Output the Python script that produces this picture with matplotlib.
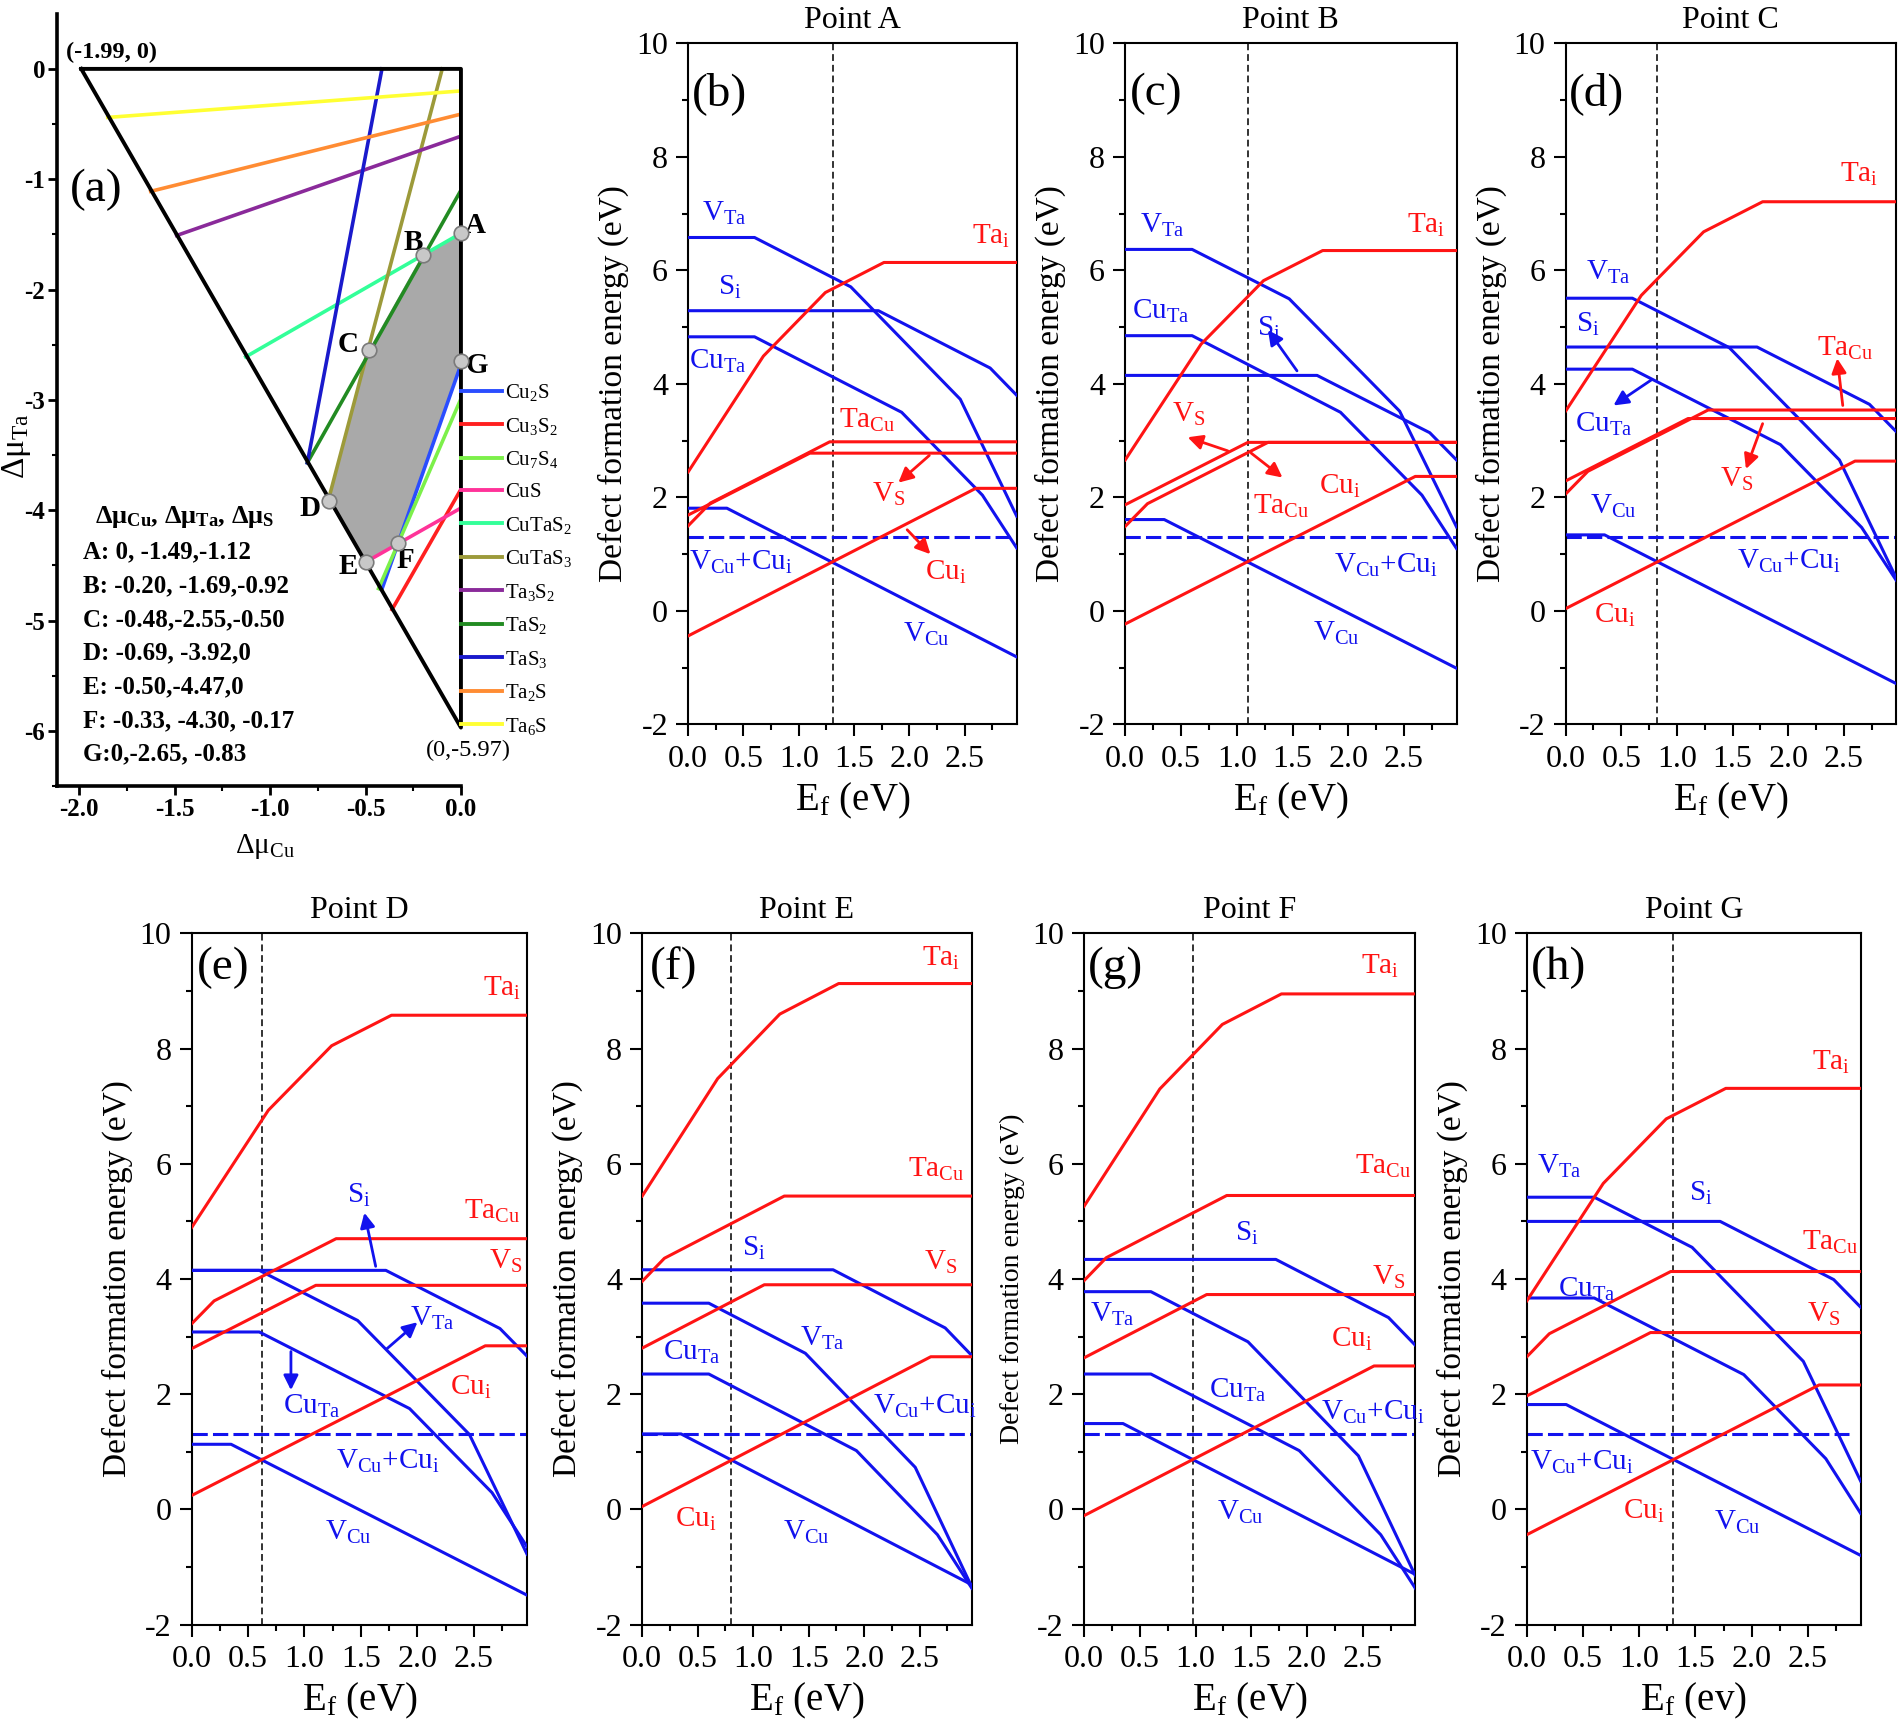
import numpy as np
import matplotlib.pyplot as plt
from matplotlib.lines import Line2D

plt.rcParams['font.family'] = 'Liberation Serif'
plt.rcParams['mathtext.fontset'] = 'custom'
plt.rcParams['mathtext.rm'] = 'Liberation Serif'
plt.rcParams['mathtext.it'] = 'Liberation Serif:italic'
plt.rcParams['mathtext.bf'] = 'Liberation Serif:bold'
plt.rcParams['axes.unicode_minus'] = False

# ---------------- panel (a): chemical potential map ----------------
tri_cu = [-1.99, 0.0, 0.0, -1.99]
tri_ta = [0.0, 0.0, -5.97, 0.0]

pt_names = ['A', 'B', 'C', 'D', 'E', 'F', 'G']
pt_cu = [0.0, -0.20, -0.48, -0.69, -0.50, -0.33, 0.0]
pt_ta = [-1.49, -1.69, -2.55, -3.92, -4.47, -4.30, -2.65]
pt_rows = ['A: 0, -1.49,-1.12', 'B: -0.20, -1.69,-0.92', 'C: -0.48,-2.55,-0.50',
           'D: -0.69, -3.92,0', 'E: -0.50,-4.47,0', 'F: -0.33, -4.30, -0.17',
           'G:0,-2.65, -0.83']

phase_names = ['Cu_2S', 'Cu_3S_2', 'Cu_7S_4', 'CuS', 'CuTaS_2', 'CuTaS_3',
               'Ta_3S_2', 'TaS_2', 'TaS_3', 'Ta_2S', 'Ta_6S']
phase_colors = ['#2a4dff', '#ff2020', '#7cf04a', '#ff3399', '#33ff99', '#9c9a3a',
                '#8a2a9a', '#228b22', '#1a1acc', '#ff8c33', '#ffff33']
phase_cu = [[-0.415, 0.0], [-0.361, 0.0], [-0.432, 0.0], [-0.489, 0.0],
            [-1.128, 0.0], [-0.695, -0.098], [-1.49, 0.0], [-0.805, 0.0],
            [-0.414, -0.805], [-1.626, 0.0], [-1.851, 0.0]]
phase_ta = [[-4.72, -2.68], [-4.90, -3.81], [-4.71, -2.99], [-4.46, -3.98],
            [-2.61, -1.49], [-3.91, 0.0], [-1.51, -0.61], [-3.57, -1.10],
            [0.0, -3.57], [-1.11, -0.41], [-0.44, -0.20]]

# ---------------- panels (b)-(h): defect formation energies ----------------
ef_max = 2.97
panel_tags = ['(b)', '(c)', '(d)', '(e)', '(f)', '(g)', '(h)']
panel_titles = ['Point A', 'Point B', 'Point C', 'Point D', 'Point E', 'Point F', 'Point G']
ef_pin = [1.31, 1.10, 0.82, 0.62, 0.80, 0.98, 1.30]
pair_level = 1.30
pair_end = [ef_max, ef_max, ef_max, ef_max, ef_max, ef_max, 2.87]

VTa_x = [0, 0.60, 1.47, 2.46, ef_max]
VTa_E = [[6.58, 6.58, 5.71, 3.73, 1.67],
         [6.37, 6.37, 5.50, 3.52, 1.48],
         [5.51, 5.51, 4.64, 2.66, 0.58],
         [4.15, 4.15, 3.28, 1.30, -0.78],
         [3.58, 3.58, 2.71, 0.73, -1.35],
         [3.78, 3.78, 2.91, 0.93, -1.15],
         [5.42, 5.42, 4.55, 2.57, 0.49]]
Si_x = [0, 1.72, 2.73, ef_max]
Si_E = [[5.29, 5.29, 4.28, 3.80],
        [4.15, 4.15, 3.14, 2.66],
        [4.65, 4.65, 3.64, 3.16],
        [4.15, 4.15, 3.14, 2.66],
        [4.16, 4.16, 3.15, 2.67],
        [4.34, 4.34, 3.33, 2.85],
        [5.00, 5.00, 3.99, 3.51]]
CuTa_x = [0, 0.60, 1.93, 2.66, ef_max]
CuTa_E = [[4.83, 4.83, 3.50, 2.04, 1.11],
          [4.85, 4.85, 3.50, 2.04, 1.10],
          [4.26, 4.26, 2.93, 1.47, 0.54],
          [3.08, 3.08, 1.75, 0.29, -0.65],
          [2.35, 2.35, 1.02, -0.44, -1.37],
          [2.35, 2.35, 1.02, -0.44, -1.37],
          [3.67, 3.67, 2.34, 0.88, -0.07]]
VCu_x = [0, 0.35, ef_max]
VCu_E = [[1.81, 1.81, -0.81],
         [1.61, 1.61, -1.01],
         [1.34, 1.34, -1.28],
         [1.13, 1.13, -1.49],
         [1.31, 1.31, -1.31],
         [1.49, 1.49, -1.13],
         [1.82, 1.82, -0.80]]
Tai_x = [0, 0.68, 1.24, 1.77, ef_max]
Tai_E = [[2.45, 4.49, 5.61, 6.14, 6.14],
         [2.66, 4.70, 5.82, 6.35, 6.35],
         [3.52, 5.56, 6.68, 7.21, 7.21],
         [4.89, 6.93, 8.05, 8.58, 8.58],
         [5.44, 7.48, 8.60, 9.13, 9.13],
         [5.26, 7.30, 8.42, 8.95, 8.95],
         [3.62, 5.66, 6.78, 7.31, 7.31]]
TaCu_x = [0, 0.20, 1.28, ef_max]
TaCu_E = [[1.50, 1.90, 2.98, 2.98],
          [1.49, 1.89, 2.97, 2.97],
          [2.06, 2.46, 3.54, 3.54],
          [3.22, 3.62, 4.70, 4.70],
          [3.96, 4.36, 5.44, 5.44],
          [3.97, 4.37, 5.45, 5.45],
          [2.65, 3.05, 4.13, 4.13]]
VS_x = [0, 1.10, ef_max]
VS_E = [[1.69, 2.78, 2.78],
        [1.87, 2.97, 2.97],
        [2.29, 3.39, 3.39],
        [2.79, 3.89, 3.89],
        [2.80, 3.90, 3.90],
        [2.63, 3.73, 3.73],
        [1.97, 3.07, 3.07]]
Cui_x = [0, 2.60, ef_max]
Cui_E = [[-0.44, 2.16, 2.16],
         [-0.23, 2.37, 2.37],
         [0.04, 2.64, 2.64],
         [0.24, 2.84, 2.84],
         [0.05, 2.65, 2.65],
         [-0.11, 2.49, 2.49],
         [-0.44, 2.16, 2.16]]

BLUE = '#1212ee'
RED = '#ff1414'

LBL = {
    'VTa': (r'$\mathrm{V_{Ta}}$', BLUE), 'Si': (r'$\mathrm{S_i}$', BLUE),
    'CuTa': (r'$\mathrm{Cu_{Ta}}$', BLUE), 'VCu': (r'$\mathrm{V_{Cu}}$', BLUE),
    'pair': (r'$\mathrm{V_{Cu}{+}Cu_i}$', BLUE),
    'Tai': (r'$\mathrm{Ta_i}$', RED), 'TaCu': (r'$\mathrm{Ta_{Cu}}$', RED),
    'VS': (r'$\mathrm{V_S}$', RED), 'Cui': (r'$\mathrm{Cu_i}$', RED),
}

# label placement per panel: (key, x, y); arrows: (color, tail, head)
label_pos = [
    [('VTa', 0.33, 7.0), ('Si', 0.38, 5.7), ('CuTa', 0.27, 4.4), ('Tai', 2.74, 6.6),
     ('TaCu', 1.62, 3.35), ('VS', 1.81, 2.05), ('Cui', 2.33, 0.68), ('pair', 0.48, 0.85),
     ('VCu', 2.15, -0.42)],
    [('VTa', 0.33, 6.8), ('CuTa', 0.32, 5.28), ('Si', 1.29, 4.98), ('VS', 0.57, 3.47),
     ('TaCu', 1.40, 1.85), ('Cui', 1.92, 2.2), ('Tai', 2.7, 6.8), ('pair', 2.34, 0.8),
     ('VCu', 1.89, -0.4)],
    [('Tai', 2.64, 7.7), ('VTa', 0.38, 5.97), ('Si', 0.20, 5.05), ('TaCu', 2.51, 4.62),
     ('CuTa', 0.34, 3.28), ('VS', 1.54, 2.32), ('VCu', 0.43, 1.84), ('pair', 2.01, 0.88),
     ('Cui', 0.44, -0.08)],
    [('Tai', 2.75, 9.05), ('TaCu', 2.66, 5.17), ('VS', 2.78, 4.31), ('Si', 1.48, 5.46),
     ('VTa', 2.13, 3.31), ('CuTa', 1.06, 1.78), ('Cui', 2.47, 2.12), ('pair', 1.74, 0.83),
     ('VCu', 1.39, -0.4)],
    [('Tai', 2.69, 9.57), ('TaCu', 2.65, 5.91), ('VS', 2.69, 4.29), ('Si', 1.01, 4.53),
     ('VTa', 1.62, 2.96), ('CuTa', 0.45, 2.73), ('pair', 2.55, 1.78), ('Cui', 0.48, -0.17),
     ('VCu', 1.48, -0.4)],
    [('Tai', 2.65, 9.43), ('TaCu', 2.68, 5.95), ('VS', 2.73, 4.03), ('Si', 1.46, 4.79),
     ('VTa', 0.25, 3.38), ('Cui', 2.40, 2.95), ('CuTa', 1.38, 2.06), ('pair', 2.59, 1.69),
     ('VCu', 1.40, -0.05)],
    [('Tai', 2.71, 7.76), ('VTa', 0.29, 5.96), ('Si', 1.55, 5.48), ('TaCu', 2.70, 4.63),
     ('CuTa', 0.53, 3.82), ('VS', 2.64, 3.39), ('pair', 0.49, 0.82), ('Cui', 1.04, -0.03),
     ('VCu', 1.87, -0.22)],
]
arrows = [
    [(RED, (2.18, 2.74), (1.90, 2.26)), (RED, (1.98, 1.43), (2.19, 1.0))],
    [(BLUE, (1.54, 4.23), (1.28, 4.95)), (RED, (0.92, 2.82), (0.56, 3.06)),
     (RED, (1.13, 2.78), (1.41, 2.35))],
    [(RED, (2.49, 3.62), (2.44, 4.45)), (BLUE, (0.77, 4.07), (0.43, 3.62)),
     (RED, (1.77, 3.30), (1.62, 2.50))],
    [(BLUE, (1.63, 4.22), (1.53, 5.15)), (BLUE, (1.73, 2.79), (2.00, 3.25)),
     (BLUE, (0.88, 2.74), (0.88, 2.07))],
    [], [], [],
]

rects = [
    [0.3622, 0.5827, 0.1729, 0.3923],
    [0.5922, 0.5827, 0.1744, 0.3923],
    [0.8240, 0.5827, 0.1740, 0.3923],
    [0.1008, 0.0642, 0.1766, 0.3981],
    [0.3380, 0.0642, 0.1735, 0.3981],
    [0.5705, 0.0642, 0.1744, 0.3981],
    [0.8036, 0.0642, 0.1757, 0.3981],
]

fig = plt.figure(figsize=(19.0, 17.36), dpi=100)

# ---------- panel (a) ----------
ax = fig.add_axes([0.0300, 0.5472, 0.2126, 0.4449])
ax.fill(pt_cu, pt_ta, color='#a9a9a9', zorder=1)
for cu, ta, c in zip(phase_cu, phase_ta, phase_colors):
    ax.plot(cu, ta, color=c, lw=2.6, zorder=2)
ax.plot(tri_cu, tri_ta, color='black', lw=2.8, zorder=3, clip_on=False)
ax.scatter(pt_cu, pt_ta, s=110, c='#c8c8c8', edgecolors='#7a7a7a', linewidths=1.2,
           zorder=5, clip_on=False)
pt_lab = [(0.075, -1.42), (-0.248, -1.57), (-0.592, -2.50), (-0.79, -3.98),
          (-0.592, -4.51), (-0.291, -4.46), (0.085, -2.69)]
for nm, (lx, ly) in zip(pt_names, pt_lab):
    ax.text(lx, ly, nm, fontsize=21, fontweight='bold', ha='center', va='center',
            clip_on=False)
ax.text(-1.833, 0.15, '(-1.99, 0)', fontsize=17.5, fontweight='bold', ha='center', va='center')
ax.text(0.04, -6.18, '(0,-5.97)', fontsize=17.5, ha='center', va='center')
ax.text(-1.91, -1.10, '(a)', fontsize=34, ha='center', va='center')
ax.text(-1.917, -4.06, r'Δμ$_{\mathbf{Cu}}$, Δμ$_{\mathbf{Ta}}$, Δμ$_{\mathbf{S}}$',
        fontsize=19, fontweight='bold', ha='left', va='center')
for i, row in enumerate(pt_rows):
    ax.text(-1.979, -4.38 - 0.305 * i, row, fontsize=18, fontweight='bold',
            ha='left', va='center')

handles = [Line2D([], [], color=c, lw=2.8) for c in phase_colors]
names = [r'$\mathrm{%s}$' % n for n in phase_names]
ax.legend(handles, names, loc='upper left', bbox_to_anchor=(1.0, 0.523),
          frameon=False, fontsize=15, handlelength=1.97, handletextpad=0.16,
          labelspacing=0.6, borderpad=0, borderaxespad=0)

ax.set_xlim(-2.117, 0.0)
ax.set_ylim(-6.5, 0.5)
for s in ['top', 'right']:
    ax.spines[s].set_visible(False)
for s in ['left', 'bottom']:
    ax.spines[s].set_linewidth(2.6)
xt = [-2.0, -1.5, -1.0, -0.5, 0.0]
ax.set_xticks(xt, ['%.1f' % v for v in xt], fontsize=18, fontweight='bold')
ax.set_xticks(np.arange(-2.0, 0.01, 0.25), minor=True)
yt = [0, -1, -2, -3, -4, -5, -6]
ax.set_yticks(yt, ['%d' % v for v in yt], fontsize=18, fontweight='bold')
ax.set_yticks(np.arange(-6.5, 0.01, 0.5), minor=True)
ax.tick_params(which='major', direction='out', length=6.5, width=2, pad=2)
ax.tick_params(which='minor', direction='out', length=3.5, width=1.5)
ax.set_xlabel(r'Δμ$_{\mathrm{Cu}}$', fontsize=21)
ax.xaxis.set_label_coords(0.516, -0.06)
ax.set_ylabel(r'Δμ$_{\mathrm{Ta}}$', fontsize=24)
ax.yaxis.set_label_coords(-0.06, 0.44)

# ---------- panels (b)-(h) ----------
defect_sets = [(VTa_x, VTa_E, BLUE), (Si_x, Si_E, BLUE), (CuTa_x, CuTa_E, BLUE),
               (VCu_x, VCu_E, BLUE), (Tai_x, Tai_E, RED), (TaCu_x, TaCu_E, RED),
               (VS_x, VS_E, RED), (Cui_x, Cui_E, RED)]

for k in range(7):
    ax = fig.add_axes(rects[k])
    ax.axvline(ef_pin[k], color='#333333', lw=1.4, ls=(0, (3.5, 2)), zorder=1)
    ax.plot([0, pair_end[k]], [pair_level, pair_level], color=BLUE, lw=2.2,
            ls=(0, (5, 1.7)), zorder=2)
    for xs, es, c in defect_sets:
        ax.plot(xs, es[k], color=c, lw=2.2, zorder=3)

    for key, lx, ly in label_pos[k]:
        txt, c = LBL[key]
        ax.text(lx, ly, txt, color=c, fontsize=21, ha='center', va='center')
    for c, tail, head in arrows[k]:
        ax.annotate('', xy=head, xytext=tail,
                    arrowprops=dict(arrowstyle='-|>', color=c, lw=2.0,
                                    mutation_scale=22, shrinkA=0, shrinkB=0))
    ax.text(0.28, 9.12 if k < 3 else 9.4, panel_tags[k], fontsize=34,
            ha='center', va='center')

    ax.set_xlim(0, ef_max)
    ax.set_ylim(-2, 10)
    xt = [0.0, 0.5, 1.0, 1.5, 2.0, 2.5]
    ax.set_xticks(xt, ['%.1f' % v for v in xt], fontsize=23)
    ax.set_xticks(np.arange(0.25, ef_max, 0.5), minor=True)
    yt = [-2, 0, 2, 4, 6, 8, 10]
    ax.set_yticks(yt, ['%d' % v for v in yt], fontsize=23)
    ax.set_yticks([-1, 1, 3, 5, 7, 9], minor=True)
    ax.tick_params(which='major', direction='out', length=8.5, width=1.5, pad=6)
    ax.tick_params(which='minor', direction='out', length=4.5, width=1.5)
    for s in ax.spines.values():
        s.set_linewidth(1.5)
    ax.set_title(panel_titles[k], fontsize=23, pad=11)
    ax.set_xlabel(r'E$_\mathrm{f}$ (ev)' if k == 6 else r'E$_\mathrm{f}$ (eV)',
                  fontsize=28, labelpad=5)
    ax.set_ylabel('Defect formation energy (eV)', fontsize=20 if k == 5 else 24,
                  labelpad=5)

fig.savefig('out.png', dpi=100)
